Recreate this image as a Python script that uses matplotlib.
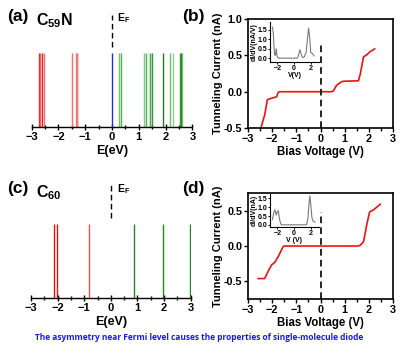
import numpy as np
import matplotlib
matplotlib.use('Agg')
import matplotlib.pyplot as plt
from matplotlib.ticker import MultipleLocator

plt.rcParams['font.family'] = ['Liberation Sans', 'DejaVu Sans']
plt.rcParams['font.weight'] = 'bold'
plt.rcParams['axes.labelweight'] = 'bold'
plt.rcParams['mathtext.fontset'] = 'custom'
plt.rcParams['mathtext.rm'] = 'Liberation Sans:bold'
plt.rcParams['mathtext.it'] = 'Liberation Sans:bold'
plt.rcParams['mathtext.bf'] = 'Liberation Sans:bold'

# ---- 能级 (a) C59N
c59n_levels = [-2.73, -2.68, -2.61, -2.53, -1.51, -1.36, -1.32, -1.29,
               0.0,
               0.27, 0.32, 1.20, 1.25, 1.40, 1.43, 1.51, 1.91, 2.18, 2.29, 2.53, 2.57, 2.61]
c59n_colors = ['#ee2020', '#f06060', '#ee2020', '#f07070', '#f07070', '#f08080', '#e84040', '#f08080',
               '#2030e0',
               '#70c070', '#50b050', '#80c880', '#50b050', '#80c880', '#50a850', '#2f9a2f', '#207a20',
               '#70c070', '#90d090', '#2f9a2f', '#1f7f1f', '#70c070']

# ---- 能级 (c) C60
c60_levels = [-2.13, -2.01, -0.83, 0.86, 1.96, 2.98]
c60_colors = ['#ee1010', '#ee1010', '#f05050', '#1f8a1f', '#1f8a1f', '#1f8a1f']

# ---- I-V (b)
iv_b_v = [-2.45, -2.31, -2.20, -2.03, -1.82, -1.75, -1.70, 0.45, 0.53, 0.67, 0.88, 1.00, 1.57, 1.65, 1.78, 1.92, 2.05, 2.24]
iv_b_i = [-0.48, -0.32, -0.11, -0.09, -0.07, -0.01, 0.0, 0.0, 0.01, 0.09, 0.14, 0.145, 0.15, 0.25, 0.48, 0.51, 0.55, 0.59]
didv_b_v = [-2.6, -2.5, -2.42, -2.35, -2.25, -2.15, -2.05, -1.9, 0.4, 0.55, 0.7, 0.85, 1.0, 1.2, 1.45, 1.6, 1.75, 1.9, 2.0, 2.2, 2.4]
didv_b_g = [1.65, 1.3, 0.6, 0.2, 0.15, 0.5, 0.1, 0.0, 0.0, 0.2, 0.45, 0.2, 0.05, 0.05, 0.3, 1.0, 1.6, 1.0, 0.3, 0.25, 0.12]

# ---- I-V (d)
iv_d_v = [-2.58, -2.31, -2.17, -2.03, -1.89, -1.75, -1.55, -1.48, 1.55, 1.64, 1.78, 1.92, 2.03, 2.19, 2.47]
iv_d_i = [-0.46, -0.46, -0.36, -0.27, -0.23, -0.15, -0.01, 0.0, 0.0, 0.01, 0.06, 0.31, 0.48, 0.51, 0.59]
didv_d_v = [-2.6, -2.45, -2.3, -2.15, -2.05, -1.9, -1.75, -1.55, 1.5, 1.65, 1.8, 1.9, 2.0, 2.15, 2.3, 2.5]
didv_d_g = [0.3, 0.7, 0.85, 0.55, 0.7, 0.8, 0.3, 0.0, 0.0, 0.3, 1.2, 1.65, 1.2, 0.4, 0.2, 0.15]

caption = 'The asymmetry near Fermi level causes the properties of single-molecule diode'

fig = plt.figure(figsize=(4.0, 3.47), dpi=100)


def bold_ticks(ax):
    for lab in ax.get_xticklabels() + ax.get_yticklabels():
        lab.set_fontweight('bold')


def level_panel(rect, levels, colors):
    ax = fig.add_axes(rect)
    ax.vlines(levels, 0, 0.66, colors=colors, lw=1.0)
    ax.vlines(0, 0.71, 1.0, colors='k', lw=1.0, linestyles=(0, (4, 2.5)))
    ax.set_xlim(-3, 3)
    ax.set_ylim(0, 1)
    for s in ['left', 'right', 'top']:
        ax.spines[s].set_visible(False)
    ax.spines['bottom'].set_linewidth(1.0)
    ax.set_yticks([])
    ax.xaxis.set_major_locator(MultipleLocator(1))
    ax.xaxis.set_minor_locator(MultipleLocator(0.5))
    ax.tick_params(axis='x', which='major', direction='inout', length=5, width=1, labelsize=8, pad=1)
    ax.tick_params(axis='x', which='minor', direction='inout', length=3, width=1)
    ax.set_xlabel('E(eV)', fontsize=9, labelpad=2)
    ax.patch.set_alpha(0)
    bold_ticks(ax)
    return ax


def iv_panel(rect, v, i, ylim, yticks, dash_top):
    ax = fig.add_axes(rect)
    ax.plot(v, i, color='#ee1111', lw=1.2)
    ax.vlines(0, ylim[0], dash_top, colors='k', lw=1.2, linestyles=(0, (4, 2.5)))
    ax.set_xlim(-3, 3)
    ax.set_ylim(*ylim)
    ax.set_yticks(yticks)
    ax.set_yticklabels(['%.1f' % t for t in yticks])
    ax.xaxis.set_major_locator(MultipleLocator(1))
    ax.xaxis.set_minor_locator(MultipleLocator(0.5))
    for s in ax.spines.values():
        s.set_linewidth(1.2)
    ax.tick_params(which='major', direction='out', length=3, width=1, labelsize=7.8, pad=1)
    ax.tick_params(which='minor', direction='out', length=2, width=1)
    ax.set_xlabel('Bias Voltage (V)', fontsize=8.3, labelpad=2)
    ax.set_ylabel('Tunneling Current (nA)', fontsize=8, labelpad=1)
    bold_ticks(ax)
    return ax


def inset(rect, v, g, ylim, ylabel, xlabel):
    ax = fig.add_axes(rect)
    ax.plot(v, g, color='#7a7a7a', lw=0.8)
    ax.set_xlim(-2.9, 3.0)
    ax.set_ylim(*ylim)
    ax.set_xticks([-2, 0, 2])
    ax.set_yticks([0.0, 0.5, 1.0, 1.5])
    ax.set_yticklabels(['0.0', '0.5', '1.0', '1.5'])
    ax.spines['top'].set_visible(False)
    ax.spines['right'].set_visible(False)
    for s in ['left', 'bottom']:
        ax.spines[s].set_linewidth(0.8)
    ax.tick_params(direction='out', length=1.5, width=0.7, labelsize=5, pad=0.5)
    ax.set_xlabel(xlabel, fontsize=5, labelpad=0)
    ax.set_ylabel(ylabel, fontsize=5, labelpad=0)
    ax.patch.set_alpha(0)
    bold_ticks(ax)
    return ax


ax_a = level_panel([0.079, 0.634, 0.402, 0.323], c59n_levels, c59n_colors)
ax_c = level_panel([0.0775, 0.140, 0.399, 0.327], c60_levels, c60_colors)

ax_b = iv_panel([0.62, 0.631, 0.3625, 0.314], iv_b_v, iv_b_i, (-0.5, 1.0), [-0.5, 0.0, 0.5, 1.0], 0.68)
ax_d = iv_panel([0.62, 0.138, 0.3625, 0.306], iv_d_v, iv_d_i, (-0.75, 0.75), [-0.5, 0.0, 0.5], 0.48)

inset([0.675, 0.821, 0.1225, 0.116], didv_b_v, didv_b_g, (-0.21, 1.93), 'dI/dV(nA/V)', 'V(V)')
inset([0.675, 0.346, 0.1225, 0.095], didv_d_v, didv_d_g, (-0.12, 1.75), 'dI/dV(nA)', 'V (V)')

# 面板标签
fig.text(0.018, 0.952, '(a)', fontsize=12.5, va='center')
fig.text(0.09, 0.940, r'C$_{59}$N', fontsize=11.5, va='center')
fig.text(0.292, 0.948, r'E$_\mathrm{F}$', fontsize=7.5, va='center')
fig.text(0.455, 0.952, '(b)', fontsize=12.5, va='center')
fig.text(0.018, 0.458, '(c)', fontsize=12.5, va='center')
fig.text(0.09, 0.446, r'C$_{60}$', fontsize=11.5, va='center')
fig.text(0.292, 0.455, r'E$_\mathrm{F}$', fontsize=7.5, va='center')
fig.text(0.455, 0.458, '(d)', fontsize=12.5, va='center')

fig.text(0.497, 0.027, caption, fontsize=6, color='#1a1ae6', ha='center', va='center',
         family=['Open Sans', 'DejaVu Sans'], weight='bold')

fig.savefig('out.png', dpi=100)
